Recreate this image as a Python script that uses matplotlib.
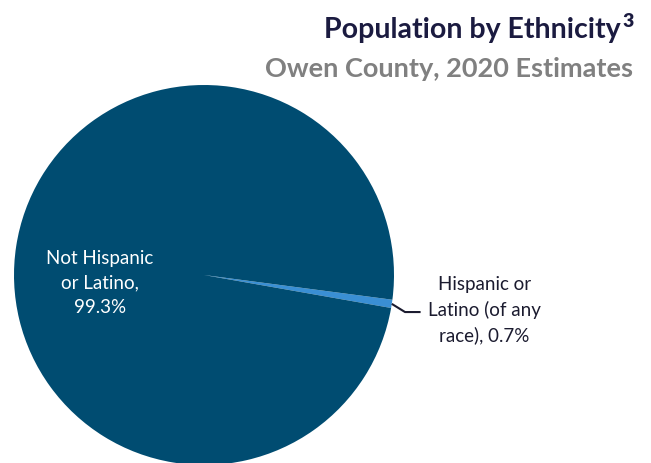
import numpy as np
import matplotlib
matplotlib.use("Agg")
import matplotlib.pyplot as plt

labels = ["Hispanic or\nLatino (of any\nrace), 0.7%", "Not Hispanic\nor Latino,\n99.3%"]
values = [0.7, 99.3]
colors = ["#3A8FD4", "#004C71"]

title = "Population by Ethnicity"
title_sup = "3"
subtitle = "Owen County, 2020 Estimates"

W, H = 651, 464
fig = plt.figure(figsize=(W / 100, H / 100), dpi=100)
fig.patch.set_facecolor("white")

ax = fig.add_axes([14 / W, -2 / H, 380 / W, 380 / H])
wedges, _ = ax.pie(values, colors=colors, startangle=-10, counterclock=True,
                   radius=1, wedgeprops=dict(linewidth=0))
ax.set_xlim(-1, 1)
ax.set_ylim(-1, 1)
ax.set_aspect("equal")
ax.axis("off")
for w in wedges:
    w.set_clip_on(False)

font = ["Lato", "DejaVu Sans"]

# inside label
ax.text(-0.547, -0.037, labels[1], ha="center", va="center", color="white",
        fontsize=13.5, family=font, linespacing=1.53)

# outside label with leader line
w0 = wedges[0]
mid = np.deg2rad((w0.theta1 + w0.theta2) / 2)
x0, y0 = np.cos(mid), np.sin(mid)
ax.plot([x0, 1.058, 1.14], [y0, -0.195, -0.195], color="#1B1B2F", lw=1.5,
        clip_on=False, solid_capstyle="butt")
ax.text(1.475, -0.18, labels[0], ha="center", va="center", color="#1B1B2F",
        fontsize=13.5, family=font, linespacing=1.53)

fig.text(621 / W, 1 - 38 / H, title, ha="right", va="baseline",
         fontsize=20.5, fontweight="bold", color="#1B1B40", family=font)
fig.text(634 / W, 1 - 27 / H, title_sup, ha="right", va="baseline",
         fontsize=14, fontweight="heavy", color="#1B1B40", family=font)
fig.text(633 / W, 1 - 77 / H, subtitle, ha="right", va="baseline",
         fontsize=19.5, fontweight="bold", color="#808080", family=font)

fig.savefig("out.png", dpi=100, facecolor="white")
